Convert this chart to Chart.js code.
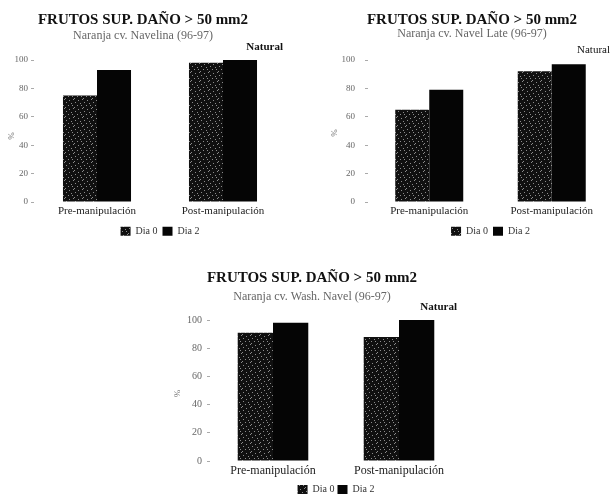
<!DOCTYPE html>
<html><head><meta charset="utf-8">
<script src="https://cdn.jsdelivr.net/npm/chart.js@4.4.0/dist/chart.umd.min.js"></script>
<style>
html,body{margin:0;padding:0;background:#fff;overflow:hidden;width:615px;height:496px}
canvas{position:absolute}
</style></head><body>
<canvas id="c1" width="300" height="248" style="left:0;top:0"></canvas>
<canvas id="c2" width="310" height="248" style="left:305px;top:0"></canvas>
<canvas id="c3" width="320" height="260" style="left:150px;top:245px"></canvas>
<script>
const categories = ['Pre-manipulación', 'Post-manipulación'];
const seriesNames = ['Dia 0', 'Dia 2'];
const yTicks = [0, 20, 40, 60, 80, 100];
const chartTitle = 'FRUTOS SUP. DAÑO > 50 mm2';
const subtitles = ['Naranja cv. Navelina (96-97)', 'Naranja cv. Navel Late (96-97)', 'Naranja cv. Wash. Navel (96-97)'];
const cornerLabel = 'Natural';
const axisLabel = '%';

const navelinaDia0 = [75, 98];
const navelinaDia2 = [93, 100];
const navelLateDia0 = [65, 92];
const navelLateDia2 = [79, 97];
const washDia0 = [91, 88];
const washDia2 = [98, 100];

const SERIF = '"Liberation Serif", "DejaVu Serif", serif';

function speckle() {
  const c = document.createElement('canvas');
  c.width = c.height = 9;
  const g = c.getContext('2d');
  g.fillStyle = '#101010'; g.fillRect(0, 0, 9, 9);
  g.fillStyle = '#8c8c8c';
  [[1,0],[6,1],[3,3],[8,4],[0,6],[5,6],[2,8]].forEach(p => g.fillRect(p[0], p[1], 1, 1));
  return g.createPattern(c, 'repeat');
}

const cornerPlugin = {
  id: 'corner',
  afterDraw(chart, args, o) {
    const ctx = chart.ctx, a = chart.chartArea;
    ctx.save();
    ctx.font = o.font; ctx.fillStyle = '#111';
    ctx.textAlign = 'right'; ctx.textBaseline = 'middle';
    ctx.fillText(cornerLabel, a.right + o.dx, a.top + o.dy);
    ctx.translate(a.left + o.px, (a.top + a.bottom) / 2 + o.py);
    ctx.rotate(-Math.PI / 2);
    ctx.font = '9px ' + SERIF; ctx.fillStyle = '#777'; ctx.textAlign = 'center';
    ctx.fillText(axisLabel, 0, 0);
    ctx.restore();
  }
};

function make(id, d0, d2, sub, c) {
  new Chart(document.getElementById(id), {
    type: 'bar',
    data: {
      labels: categories,
      datasets: [
        { label: seriesNames[0], data: d0, backgroundColor: speckle(), borderWidth: 0 },
        { label: seriesNames[1], data: d2, backgroundColor: '#050505', borderWidth: 0 }
      ]
    },
    plugins: [cornerPlugin],
    options: {
      responsive: false, animation: false,
      layout: { padding: c.pad },
      datasets: { bar: { categoryPercentage: c.cat, barPercentage: 1.0 } },
      scales: {
        x: {
          grid: { display: false, drawTicks: false }, border: { display: false },
          ticks: { padding: 3, color: '#222', font: { family: SERIF, size: c.xFont } }
        },
        y: {
          min: 0, max: 100,
          afterBuildTicks: s => { s.ticks = yTicks.map(v => ({ value: v })); },
          afterFit: s => { s.width = c.yW; },
          grid: { display: true, drawOnChartArea: false, drawTicks: true, tickLength: 3, color: '#aaa' },
          border: { display: false },
          ticks: { padding: c.yPad, color: '#666', font: { family: SERIF, size: c.yFont } }
        }
      },
      plugins: {
        title: { display: true, text: chartTitle, color: '#111',
          font: { family: SERIF, size: 15, weight: 'bold', lineHeight: 1 },
          padding: { top: c.tTop, bottom: 0 } },
        subtitle: { display: true, text: sub, color: '#666',
          font: { family: SERIF, size: 12, lineHeight: 1 },
          padding: { top: c.sTop, bottom: c.sBot } },
        legend: { position: 'bottom', fullSize: false,
          labels: { boxWidth: 10, boxHeight: 9, padding: c.lPad, color: '#333', font: { family: SERIF, size: 10 } } },
        tooltip: { enabled: false },
        corner: c.corner
      }
    }
  });
}

make('c1', navelinaDia0, navelinaDia2, subtitles[0], {
  pad: { left: 0, right: 14, top: 0, bottom: 1.8 }, cat: 0.54, yW: 34, yPad: 3, yFont: 9, xFont: 11,
  tTop: 13, sTop: 2, sBot: 18, lPad: 5,
  corner: { font: 'bold 11px ' + SERIF, dx: -3, dy: -13, px: -22, py: 5 }
});
make('c2', navelLateDia0, navelLateDia2, subtitles[1], {
  pad: { left: 26, right: 2, top: 0, bottom: 1.8 }, cat: 0.555, yW: 37, yPad: 10, yFont: 9, xFont: 11,
  tTop: 13, sTop: 0, sBot: 20, lPad: 5,
  corner: { font: '11px ' + SERIF, dx: -3, dy: -10, px: -33, py: 2 }
});
make('c3', washDia0, washDia2, subtitles[2], {
  pad: { left: 12, right: 8, top: 0, bottom: 0.6 }, cat: 0.56, yW: 48, yPad: 5, yFont: 10, xFont: 12,
  tTop: 25.5, sTop: 5.5, sBot: 17, lPad: 3,
  corner: { font: 'bold 11px ' + SERIF, dx: -5, dy: -13, px: -32, py: 3 }
});
</script>
</body></html>
